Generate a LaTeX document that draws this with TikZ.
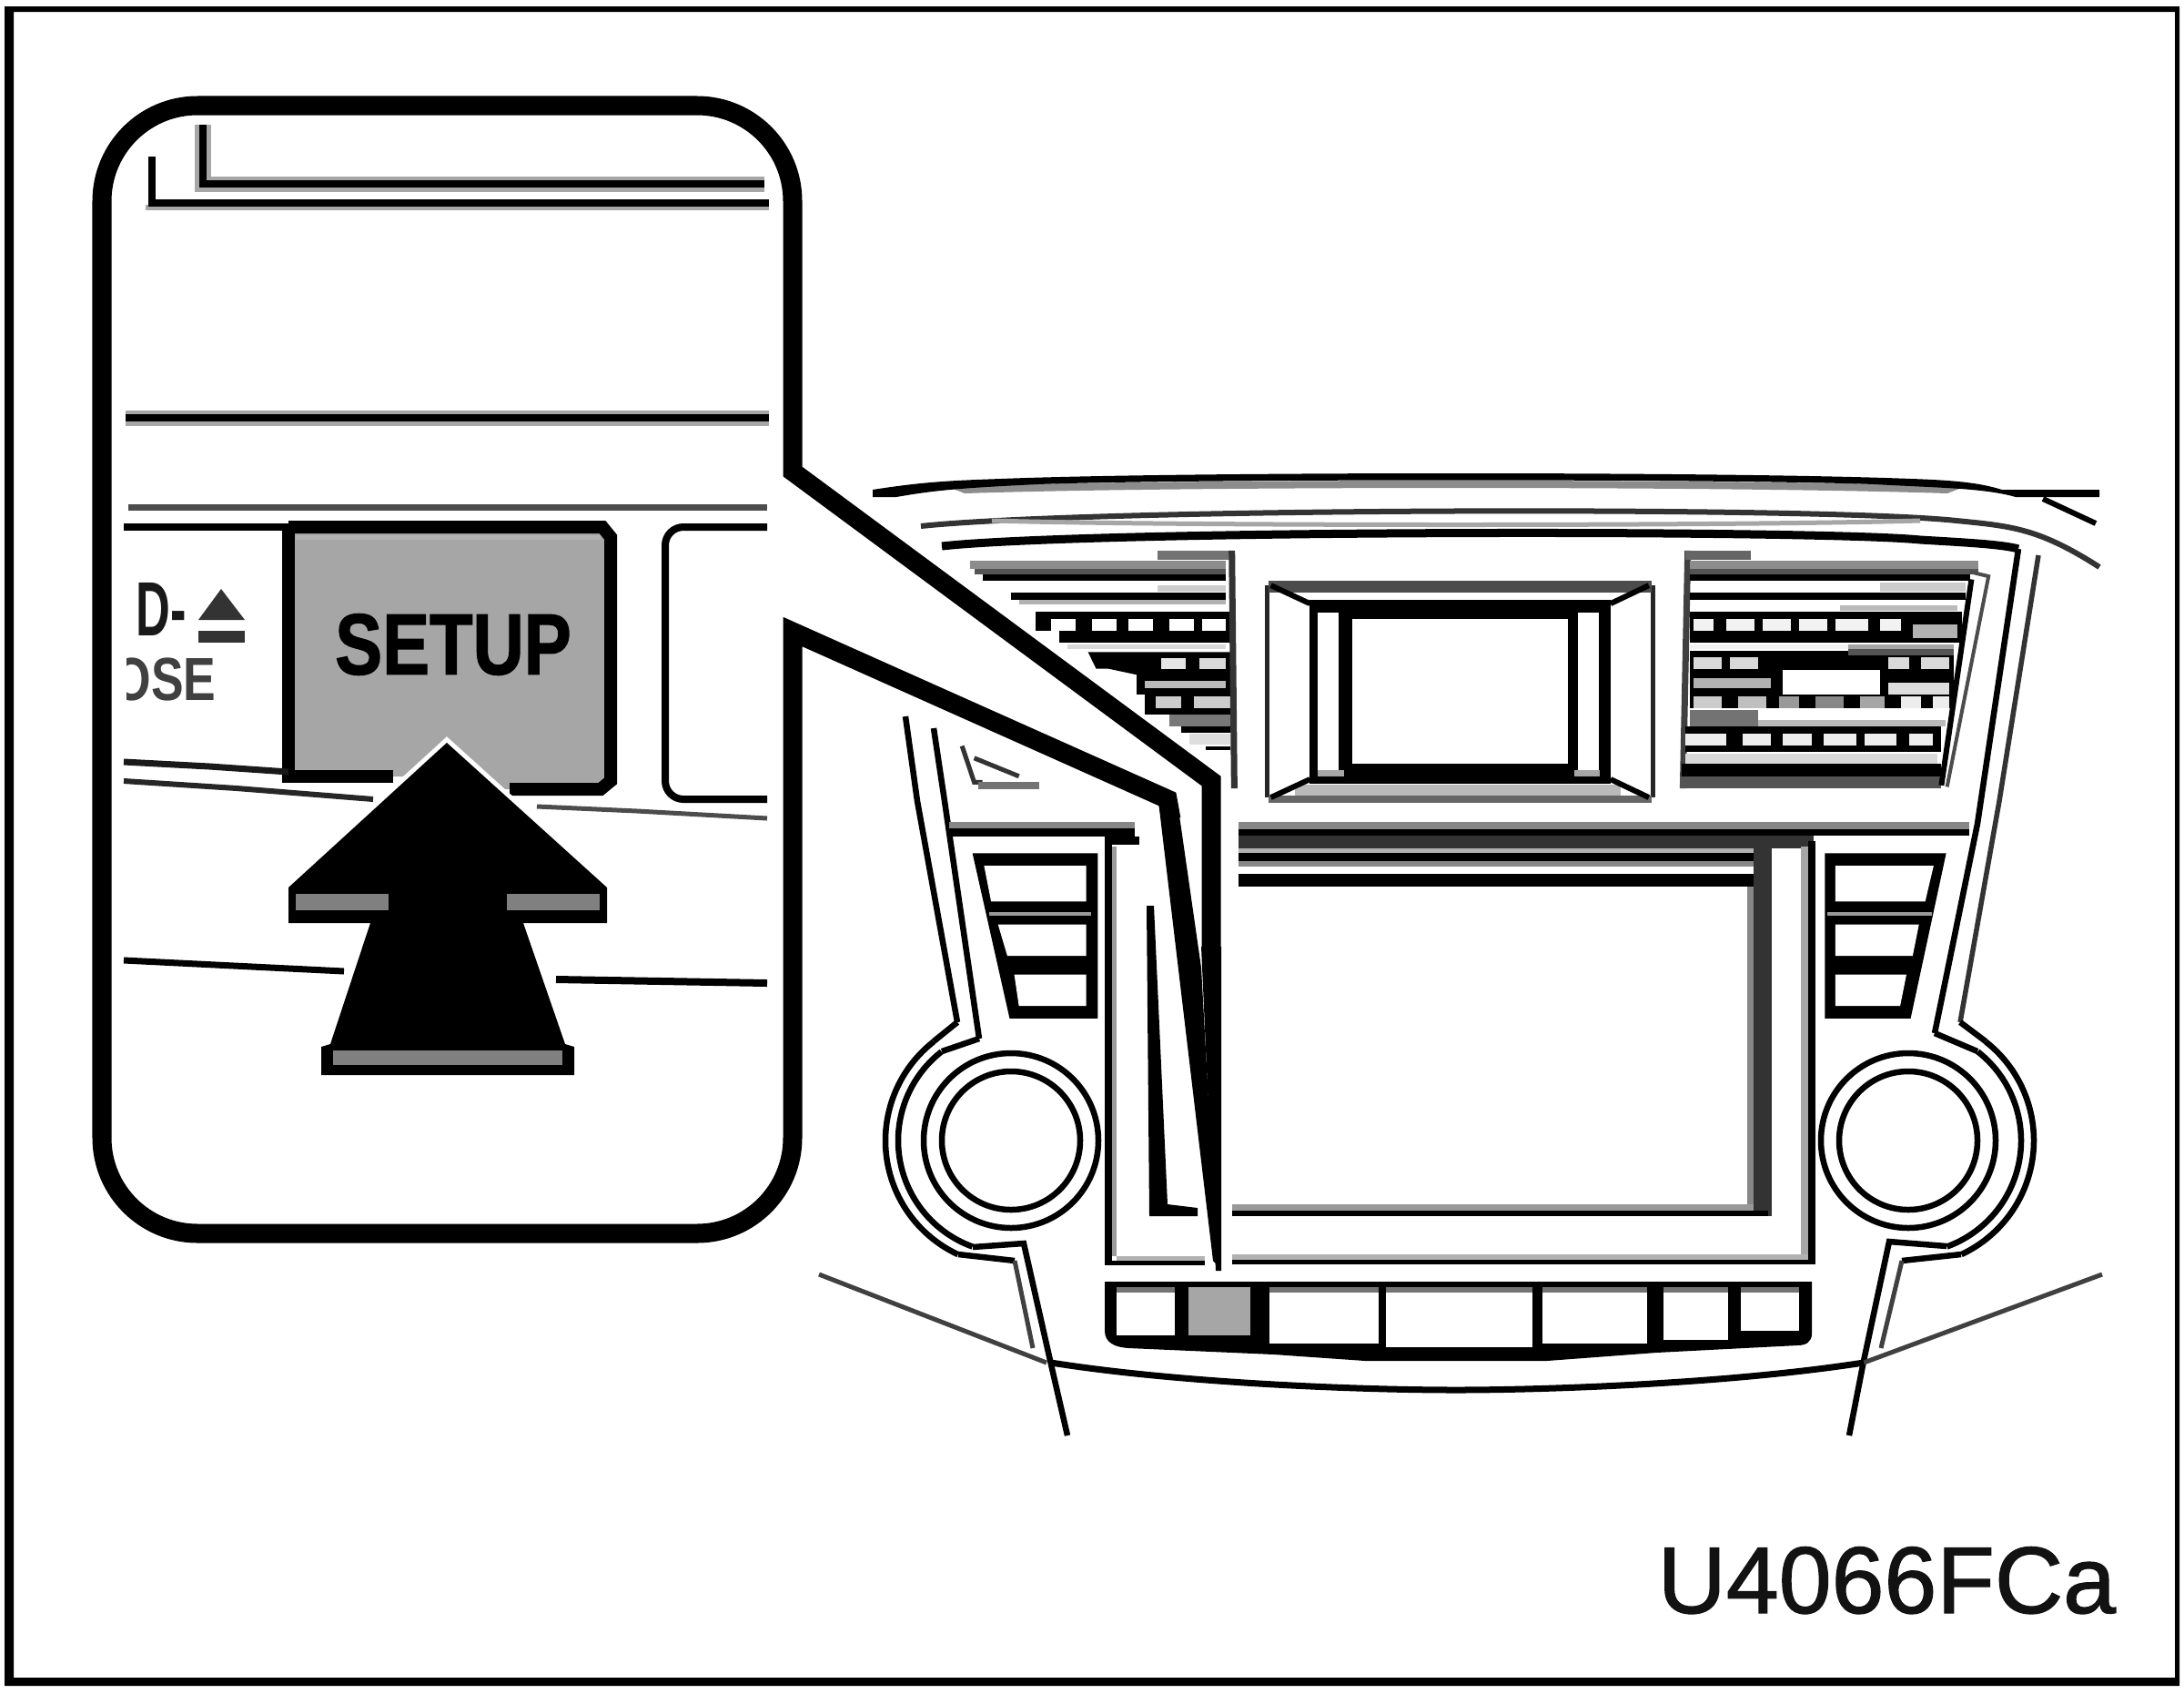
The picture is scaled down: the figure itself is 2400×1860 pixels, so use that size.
\documentclass[tikz,border=0pt]{standalone}
\usepackage{fontspec}
\setmainfont{Liberation Sans}
\newfontfamily\heavy[FakeBold=1.2]{Liberation Sans}
\newfontfamily\heavybf[FakeBold=1.5]{Liberation Sans Bold}
\newcommand\rc[5]{\fill[#1] (#2,#3) rectangle (#4,#5);}
\newcommand\arcpx[6]{\draw[#1] plot[smooth,samples=50,domain=#5:#6] ({#2+#3*cos(\x)},{#4-#3*sin(\x)});}
\tikzset{
  lw/.style={line width=#1*0.2845pt},
  halo/.style={preaction={draw,black!35,lw=17},black,lw=8},
  edge/.style={black,lw=6.5},
  fineline/.style={black!75,lw=5},
}
\begin{document}
\begin{tikzpicture}[x=0.01cm,y=-0.01cm,line join=miter]
\useasboundingbox (0,0) rectangle (2400,1860);
\fill[white] (0,0) rectangle (2400,1860);
% page frame
\fill[black,even odd rule] (5,7) rectangle (2395,1852) (15,13) rectangle (2390,1843);

%% ---------- dashboard ----------
% top crescent
\fill[black!45] (1040,534) .. controls (1300,526) and (1900,526) .. (2160,534) -- (2140,542) .. controls (1900,534) and (1300,534) .. (1060,542) -- cycle;
\fill[black] (959,538) .. controls (1010,530) and (1040,528) .. (1100,526) .. controls (1300,518) and (1900,518) .. (2100,526) .. controls (2160,528) and (2180,532) .. (2200,538) -- (2307,538) -- (2307,546) -- (2215,546) .. controls (2180,536) and (2130,536) .. (2060,532) .. controls (1900,526) and (1300,526) .. (1140,532) .. controls (1060,536) and (1030,538) .. (985,546) -- (959,546) -- cycle;
\draw[black,lw=6] (2245,548) -- (2303,575);
% second and third arcs
\draw[black!80,lw=6] (1012,578) .. controls (1200,558) and (2000,556) .. (2150,572) .. controls (2210,578) and (2240,580) .. (2307,623);
\draw[black!35,lw=5] (1090,572) .. controls (1300,578) and (1900,578) .. (2110,572);
\draw[black,lw=9] (1035,600) .. controls (1200,582) and (2000,582) .. (2110,593) .. controls (2160,596) and (2200,598) .. (2218,603);
% pillars
\draw[edge] (2218,603) -- (2173,905) -- (2126,1135);
\draw[black!80,lw=5.5] (2240,610) -- (2197,880) -- (2154,1123);
\draw[edge] (995,787) -- (1008,880) -- (1052,1123);
\draw[edge] (1026,800) -- (1038,880) -- (1076,1141);

% vents and centre display, in the coordinates of the upper crop
\begin{scope}[shift={(950,500)},x=0.00893cm,y=-0.00333cm]
  % left vent
  \rc{black!55}{360}{315}{450}{345}
  \rc{black!45}{130}{350}{445}{375}
  \rc{black!67}{135}{375}{445}{395}
  \rc{black}{145}{395}{445}{415}
  \rc{black!20}{360}{430}{445}{452}
  \rc{black}{180}{455}{445}{478}
  \rc{black!30}{190}{478}{445}{492}
  \rc{black}{210}{518}{450}{580}
  \rc{black}{240}{580}{450}{620}
  \foreach \a/\b in {230/260,280/310,325/355,375/405,415/445} {\rc{white}{\a}{540}{\b}{580}}
  \rc{black!15}{250}{625}{445}{640}
  \fill[black] (275,650) -- (450,650) -- (450,790) -- (335,790) -- (335,725) -- (300,705) -- (285,705) -- cycle;
  \rc{black!10}{365}{670}{395}{705}
  \rc{black!15}{412}{670}{445}{705}
  \rc{black!27}{345}{745}{445}{768}
  \rc{black}{345}{790}{450}{855}
  \rc{black!20}{358}{795}{390}{835}
  \rc{black!20}{405}{795}{450}{835}
  \rc{black!53}{375}{855}{450}{895}
  \rc{black}{390}{895}{450}{915}
  \rc{black!13}{400}{920}{450}{955}
  \rc{black}{420}{960}{450}{975}
  \draw[black!80,lw=7] (452,315) -- (455,1100);
  % small icon
  \draw[black!80,lw=5] (120,960) -- (135,1080) -- (145,1080);
  \draw[black!80,lw=5] (135,1000) -- (190,1060);
  \rc{black!55}{140}{1080}{215}{1102}
  % right vent
  \draw[black!75,lw=7] (1013,315) -- (1007,1100);
  \rc{black!60}{1010}{315}{1090}{345}
  \rc{black!45}{1015}{350}{1370}{375}
  \rc{black!67}{1015}{375}{1370}{395}
  \rc{black}{1015}{395}{1360}{415}
  \rc{black!20}{1250}{420}{1355}{450}
  \rc{black}{1015}{455}{1355}{478}
  \rc{black!27}{1200}{495}{1345}{515}
  \rc{black}{1015}{518}{1350}{620}
  \foreach \a/\b in {1020/1045,1060/1095,1105/1140,1150/1185,1195/1235,1250/1275} {\rc{black!5}{\a}{540}{\b}{580}}
  \rc{black!30}{1290}{560}{1345}{605}
  \rc{black!5}{1015}{625}{1210}{640}
  \rc{black!35}{1210}{625}{1340}{640}
  \rc{black}{1015}{645}{1340}{835}
  \rc{black!67}{1210}{640}{1340}{660}
  \foreach \a/\b in {1020/1055,1065/1100,1260/1285,1300/1335} {\rc{black!15}{\a}{668}{\b}{705}}
  \rc{black!30}{1020}{735}{1115}{770}
  \rc{black!13}{1260}{750}{1335}{790}
  \rc{white}{1130}{710}{1250}{790}
  \foreach \a/\b/\c in {1020/1055/20,1075/1110/25,1125/1150/40,1170/1205/47,1225/1255/35,1275/1300/7,1315/1335/7} {\rc{black!\c}{\a}{795}{\b}{835}}
  \rc{black!55}{1015}{840}{1100}{895}
  \rc{black!27}{1100}{875}{1330}{895}
  \rc{black}{1010}{895}{1325}{980}
  \foreach \a/\b in {1010/1060,1080/1115,1130/1165,1180/1220,1230/1270,1285/1315} {\rc{black!7}{\a}{918}{\b}{958}}
  \rc{black!15}{1010}{985}{1320}{1018}
  \rc{black}{1005}{1020}{1325}{1060}
  \rc{black!67}{1003}{1060}{1325}{1100}
  \draw[black,lw=6] (1362,410) -- (1325,1090);
  \draw[black!70,lw=4] (1360,385) -- (1383,400) -- (1332,1095);
  % centre display
  \draw[black!85,lw=5] (495,430) -- (495,1130);
  \draw[black!85,lw=5] (970,430) -- (970,1130);
  \rc{black!70}{497}{415}{968}{455}
  \rc{black!27}{530}{1088}{930}{1125}
  \rc{black!60}{497}{1125}{968}{1148}
  \draw[black,lw=6] (500,430) -- (548,490);
  \draw[black,lw=6] (965,430) -- (918,490);
  \draw[black,lw=6] (500,1130) -- (548,1070);
  \draw[black,lw=6] (965,1130) -- (918,1070);
  \rc{black}{548}{478}{918}{1085}
  \rc{white}{558}{520}{583}{1040}
  \rc{white}{878}{520}{903}{1040}
  \rc{white}{600}{540}{865}{1020}
  \rc{black!35}{558}{1040}{590}{1060}
  \rc{black!35}{873}{1040}{905}{1060}
\end{scope}

% screen surround
\rc{black!47}{1361}{903}{2164}{911}
\rc{black}{1361}{911}{2164}{918}
\rc{black!80}{1361}{918}{1993}{932}
\rc{black!30}{1361}{932}{1932}{937}
\rc{black}{1361}{937}{1932}{946}
\rc{black!47}{1361}{946}{1932}{952}
\rc{black}{1361}{960}{1929}{974}
\rc{black!47}{1920}{974}{1927}{1323}
\rc{black!80}{1927}{926}{1947}{1336}
\rc{black!40}{1354}{1323}{1927}{1330}
\rc{black}{1354}{1330}{1943}{1336}
\rc{black!35}{1979}{930}{1987}{1378}
\rc{black}{1987}{924}{1995}{1389}
\rc{black!30}{1354}{1378}{1987}{1384}
\rc{black}{1354}{1384}{1995}{1389}
\rc{black!30}{1227}{1380}{1324}{1385}
\rc{black}{1214}{1385}{1324}{1390}
\rc{black}{1214}{924}{1222}{1390}
\rc{black!40}{1222}{930}{1227}{1380}
% shelf above the left switches
\rc{black!47}{1043}{903}{1247}{910}
\rc{black}{1043}{910}{1247}{919}
\rc{black}{1214}{919}{1252}{928}
% inner L
\fill[black] (1260,995) -- (1268,995) -- (1283,1323) -- (1316,1327) -- (1316,1336) -- (1263,1336) -- cycle;

% left switches, in the coordinates of the left crop
\begin{scope}[shift={(880,880)},x=0.0051cm,y=-0.00459cm]
  \fill[black] (370,125) -- (640,125) -- (640,520) -- (450,520) -- cycle;
  \fill[white] (395,155) -- (615,155) -- (615,240) -- (410,240) -- cycle;
  \fill[white] (425,295) -- (615,295) -- (615,370) -- (445,370) -- cycle;
  \fill[white] (460,415) -- (615,415) -- (615,490) -- (470,490) -- cycle;
  \rc{black!40}{405}{265}{625}{275}
\end{scope}
% right switches
\begin{scope}[shift={(1640,880)},x=0.00459cm,y=-0.00459cm]
  \fill[black] (795,125) -- (1085,125) -- (1000,520) -- (795,520) -- cycle;
  \fill[white] (820,155) -- (1055,155) -- (1035,240) -- (820,240) -- cycle;
  \fill[white] (820,295) -- (1020,295) -- (1005,370) -- (820,370) -- cycle;
  \fill[white] (820,415) -- (990,415) -- (975,490) -- (820,490) -- cycle;
  \rc{black!40}{800}{265}{1050}{275}
\end{scope}

% knobs
\foreach \cx in {1111,2097} {
  \draw[edge] (\cx,1253) circle (76);
  \draw[edge] (\cx,1253) circle (96);
}
\arcpx{edge}{1111}{124}{1253}{128}{250}
\arcpx{edge}{1111}{138}{1253}{128}{245}
\arcpx{edge}{2097}{124}{1253}{52}{-70}
\arcpx{edge}{2097}{138}{1253}{52}{-65}
\draw[edge] (1076,1141) -- (1035,1155);
\draw[edge] (1052,1123) -- (1026,1144);
\draw[edge] (2126,1135) -- (2173,1155);
\draw[edge] (2154,1123) -- (2182,1144);
\draw[edge] (1069,1370) -- (1125,1366) -- (1155,1499) -- (1173,1577);
\draw[edge] (1053,1378) -- (1115,1385);
\draw[fineline] (1115,1385) -- (1135,1481);
\draw[edge] (2139,1369) -- (2076,1364) -- (2048,1495) -- (2032,1577);
\draw[edge] (2155,1378) -- (2090,1385);
\draw[fineline] (2090,1385) -- (2067,1481);
% lower console lines
\draw[fineline] (900,1400) -- (1150,1497);
\draw[fineline] (2310,1400) -- (2048,1497);
\draw[black,lw=7] (1155,1497) .. controls (1300,1520) and (1500,1527) .. (1600,1527) .. controls (1700,1527) and (1900,1520) .. (2048,1497);

% button row
\fill[black] (1214,1408) -- (1991,1408) -- (1991,1465) .. controls (1991,1474) and (1985,1478) .. (1975,1478) -- (1820,1486) -- (1700,1495) -- (1500,1495) -- (1400,1488) -- (1240,1481) .. controls (1225,1480) and (1214,1475) .. (1214,1462) -- cycle;
\foreach \a/\b/\e in {1227/1291/1467,1395/1515/1476,1523/1684/1480,1695/1810/1476,1828/1899/1472,1913/1977/1462} {
  \rc{white}{\a}{1419}{\b}{\e}
  \rc{black!55}{\a}{1414}{\b}{1420}
}
\rc{black!35}{1306}{1414}{1374}{1467}

%% ---------- inset with wedge ----------
\fill[white] (871,694) -- (871,1250) .. controls (871,1308) and (824,1355) .. (766,1355) -- (217,1355) .. controls (159,1355) and (112,1308) .. (112,1250) -- (112,221) .. controls (112,163) and (159,116) .. (217,116) -- (766,116) .. controls (824,116) and (871,163) .. (871,221) -- (871,518) -- (1331,858) -- (1340,1396) -- (1283,878) -- cycle;
% outline running on into the wedge
\draw[black,lw=21] (1287,900) -- (1283,878) -- (871,694) -- (871,1250) .. controls (871,1308) and (824,1355) .. (766,1355) -- (217,1355) .. controls (159,1355) and (112,1308) .. (112,1250) -- (112,221) .. controls (112,163) and (159,116) .. (217,116) -- (766,116) .. controls (824,116) and (871,163) .. (871,221) -- (871,518) -- (1331,858) -- (1331,1040);
% tapering legs of the wedge
\fill[black] (1320,1040) -- (1342,1040) -- (1342,1396) -- (1336,1396) -- cycle;
\fill[black] (1272,872) -- (1294,882) -- (1320,1063) -- (1338,1390) -- (1333,1385) -- cycle;

% inset contents
\draw[halo] (223,137) -- (223,202) -- (840,202);
\draw[black!35,lw=6] (160,228) -- (845,228);
\draw[black,lw=8] (167,172) -- (167,223) -- (845,223);
\draw[halo] (138,459) -- (845,459);
\draw[black!70,lw=7] (141,557) -- (843,557);
\draw[black,lw=8] (136,579) -- (317,579);
% SETUP button
\fill[black!35] (317,579) -- (660,579) -- (671,590) -- (671,855) -- (660,867) -- (500,867) -- (500,853) -- (317,853) -- cycle;
\draw[black,lw=14] (317,579) -- (662,579) -- (671,590) -- (671,858) -- (660,867) -- (560,867);
\draw[black,lw=14] (317,579) -- (317,853) -- (432,853);
\draw[black!30,lw=5] (325,590) -- (660,590);
\node[anchor=center,xscale=0.82,inner sep=0pt,text=black] (setuplabel) at (498,708) {\fontsize{27}{27}\selectfont\heavybf SETUP};
% right-hand button
\draw[black,lw=8,rounded corners=0.2cm] (843,579) -- (731,579) -- (731,878) -- (843,878);
\draw[black!70,lw=5] (590,886) -- (700,891) -- (843,899);
% cropped left-hand button
\draw[black!90,lw=7] (136,837) -- (230,842) -- (317,848);
\draw[black!85,lw=6] (136,858) -- (260,866) -- (410,878);
\draw[black,lw=7] (136,1055) -- (378,1067);
\draw[black,lw=8] (611,1076) -- (843,1080);
\node[anchor=west,xscale=0.62,inner sep=0pt,text=black!90] (dlabel) at (149,669) {\fontsize{24}{24}\selectfont\bfseries D-};
\fill[black!80] (218,681) -- (243,647) -- (269,681) -- cycle;
\rc{black!80}{218}{693}{269}{706}
\begin{scope}
  \clip (139,700) rectangle (260,790);
  \node[anchor=east,xscale=0.8,inner sep=0pt,text=black!75] (oselabel) at (238,746) {\fontsize{19}{19}\selectfont\bfseries OSE};
\end{scope}
% arrow
\path[preaction={draw,white,lw=10},fill=black] (491,816) -- (667,975) -- (667,1014) -- (575,1014) -- (621,1147) -- (631,1150) -- (631,1181) -- (353,1181) -- (353,1150) -- (363,1147) -- (407,1014) -- (317,1014) -- (317,975) -- cycle;
\rc{black!50}{325}{982}{427}{1000}
\rc{black!50}{557}{982}{659}{1000}
\rc{black!50}{366}{1154}{618}{1170}

\node[anchor=base west,inner sep=0pt,text=black!93] (codelabel) at (1821,1772) {\fontsize{29.6}{30}\selectfont\heavy U4066FCa};
\end{tikzpicture}
\end{document}
